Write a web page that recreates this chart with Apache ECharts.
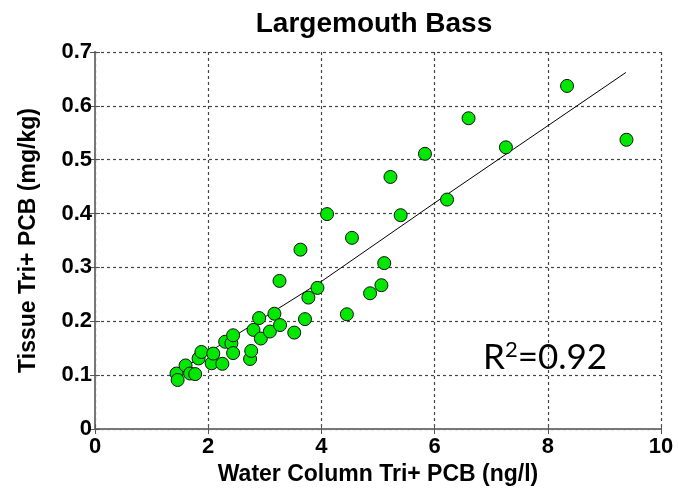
<!DOCTYPE html>
<html>
<head>
<meta charset="utf-8">
<script src="https://cdn.jsdelivr.net/npm/echarts@6/dist/echarts.min.js"></script>
<style>html,body{margin:0;padding:0;background:#fff;}#c{width:679px;height:494px;}</style>
</head>
<body>
<div id="c"></div>
<script>
// Water column Tri+ PCB (ng/l)
var waterPCB = [1.44,1.46,1.60,1.68,1.77,1.83,1.88,2.06,2.09,2.25,2.30,2.41,2.44,2.44,2.74,2.76,2.80,2.90,2.93,3.09,3.17,3.27,3.26,3.52,3.63,3.71,3.77,3.93,4.10,4.45,4.54,4.86,5.06,5.11,5.22,5.40,5.83,6.22,6.60,7.26,8.34,9.39];
// Tissue Tri+ PCB (mg/kg)
var tissuePCB = [0.103,0.091,0.118,0.103,0.102,0.131,0.143,0.122,0.140,0.121,0.162,0.159,0.174,0.141,0.130,0.145,0.184,0.206,0.168,0.181,0.214,0.193,0.275,0.179,0.333,0.204,0.244,0.262,0.399,0.213,0.355,0.252,0.267,0.308,0.468,0.397,0.511,0.426,0.577,0.523,0.637,0.537];
// fitted trend line
var fitX = [1.44, 4.0, 5.99, 9.38];
var fitY = [0.105, 0.274, 0.419, 0.662];
var xTicks = [0,2,4,6,8,10];
var yTicks = [0,0.1,0.2,0.3,0.4,0.5,0.6,0.7];
var chartTitle = 'Largemouth Bass';
var xName = 'Water Column Tri+ PCB (ng/l)';
var yName = 'Tissue Tri+ PCB (mg/kg)';
var r2Text = '0.92';

var scatterData = waterPCB.map(function(x,i){return [x, tissuePCB[i]];});
var fitData = fitX.map(function(x,i){return [x, fitY[i]];});

var FONT = '"Liberation Sans", Arial, sans-serif';
var chart = echarts.init(document.getElementById('c'));
var gridLine = {show:true, lineStyle:{color:'#444', type:[3,3], width:1.2}};
chart.setOption({
  backgroundColor:'#fff',
  animation:false,
  title:{text:chartTitle, left:369, textAlign:'center', top:5,
    textStyle:{fontFamily:FONT, fontWeight:'bold', fontSize:28, color:'#000'}},
  grid:{left:95, right:18, top:52, bottom:65},
  xAxis:[{
    type:'value', min:xTicks[0], max:xTicks[xTicks.length-1], interval:2,
    name:xName, nameLocation:'middle', nameGap:32,
    nameTextStyle:{fontFamily:FONT, fontWeight:'bold', fontSize:23, color:'#000'},
    axisLine:{show:true, onZero:false, lineStyle:{color:'#777', width:2}},
    axisTick:{show:true, inside:true, length:5, lineStyle:{color:'#555'}},
    axisLabel:{fontFamily:FONT, fontWeight:'bold', fontSize:22, color:'#000', margin:7},
    splitLine:gridLine
  },{
    type:'value', position:'top', min:0, max:10, interval:2,
    axisLine:{show:false}, axisLabel:{show:false}, splitLine:{show:false},
    axisTick:{show:true, inside:true, length:5, lineStyle:{color:'#555'}}
  }],
  yAxis:[{
    type:'value', min:yTicks[0], max:yTicks[yTicks.length-1], interval:0.1,
    name:yName, nameLocation:'middle', nameGap:55,
    nameTextStyle:{fontFamily:FONT, fontWeight:'bold', fontSize:23, color:'#000'},
    axisLine:{show:true, onZero:false, lineStyle:{color:'#777', width:2}},
    axisTick:{show:true, inside:true, length:5, lineStyle:{color:'#555'}},
    axisLabel:{fontFamily:FONT, fontWeight:'bold', fontSize:22, color:'#000', margin:3,
      formatter:function(v){return v===0?'0':v.toFixed(1);}},
    splitLine:gridLine
  },{
    type:'value', position:'right', min:0, max:0.7, interval:0.1,
    axisLine:{show:true, lineStyle:{color:'#777', width:2}},
    axisLabel:{show:false}, splitLine:{show:false},
    axisTick:{show:true, inside:true, length:5, lineStyle:{color:'#555'}}
  }],
  graphic:[{
    type:'text', left:483, top:339, z:100,
    style:{
      text:'{r|R}{s|2}{r|=' + r2Text + '}',
      rich:{
        r:{fontFamily:'Lato, "Open Sans", sans-serif', fontSize:35, fill:'#000', verticalAlign:'bottom'},
        s:{fontFamily:'Lato, "Open Sans", sans-serif', fontSize:22, fill:'#000', verticalAlign:'top', padding:[0,0,14,0]}
      }
    }
  }],
  series:[{
    type:'line', data:fitData, showSymbol:false, symbol:'none',
    lineStyle:{color:'#000', width:1}, z:3, silent:true
  },{
    type:'scatter', data:scatterData, symbol:'circle', symbolSize:13,
    itemStyle:{color:'#00e800', borderColor:'#111', borderWidth:1, opacity:1}, z:4
  }]
});
</script>
</body>
</html>
